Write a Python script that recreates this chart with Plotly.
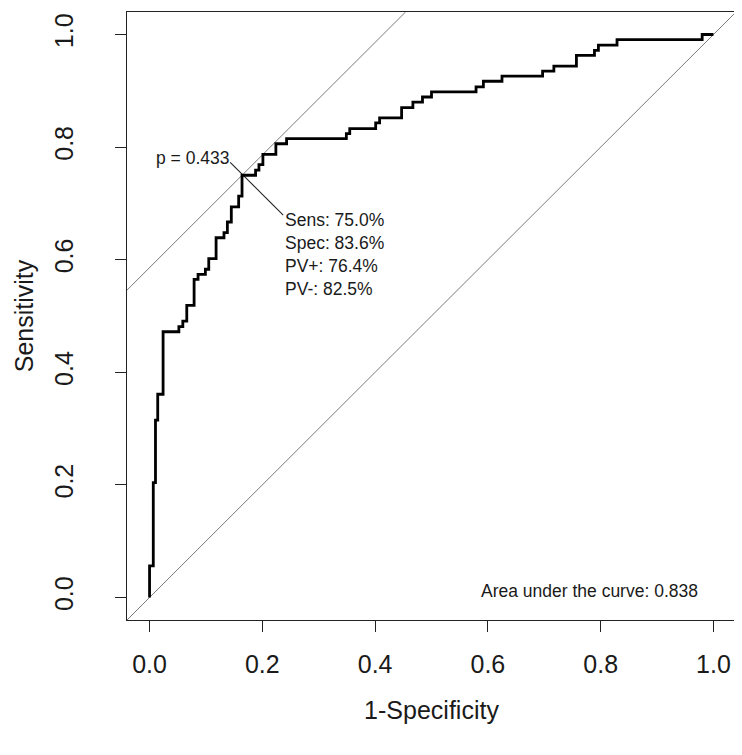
import plotly.graph_objects as go

# ROC curve vertices (1-Specificity, Sensitivity)
fpr = [0.000, 0.000, 0.0066, 0.0066, 0.0105, 0.0105, 0.0145, 0.0145, 0.024, 0.024,
       0.052, 0.052, 0.059, 0.059, 0.066, 0.066, 0.079, 0.079, 0.086, 0.086,
       0.099, 0.099, 0.105, 0.105, 0.118, 0.118, 0.132, 0.132, 0.138, 0.138,
       0.145, 0.145, 0.158, 0.158, 0.164, 0.164,
       0.188, 0.188, 0.194, 0.194, 0.201, 0.201, 0.224, 0.224, 0.243, 0.243,
       0.349, 0.349, 0.355, 0.355, 0.401, 0.401, 0.408, 0.408, 0.447, 0.447,
       0.467, 0.467, 0.484, 0.484, 0.500, 0.500, 0.579, 0.579, 0.592, 0.592,
       0.625, 0.625, 0.697, 0.697, 0.717, 0.717, 0.757, 0.757, 0.789, 0.789,
       0.796, 0.796, 0.829, 0.829, 0.980, 0.980, 1.000]
tpr = [0.000, 0.056, 0.056, 0.204, 0.204, 0.315, 0.315, 0.361, 0.361, 0.472,
       0.472, 0.481, 0.481, 0.491, 0.491, 0.519, 0.519, 0.565, 0.565, 0.574,
       0.574, 0.583, 0.583, 0.602, 0.602, 0.639, 0.639, 0.648, 0.648, 0.667,
       0.667, 0.694, 0.694, 0.713, 0.713, 0.750,
       0.750, 0.759, 0.759, 0.769, 0.769, 0.787, 0.787, 0.806, 0.806, 0.815,
       0.815, 0.824, 0.824, 0.833, 0.833, 0.843, 0.843, 0.852, 0.852, 0.870,
       0.870, 0.880, 0.880, 0.889, 0.889, 0.898, 0.898, 0.907, 0.907, 0.917,
       0.917, 0.926, 0.926, 0.935, 0.935, 0.944, 0.944, 0.963, 0.963, 0.972,
       0.972, 0.981, 0.981, 0.991, 0.991, 1.000, 1.000]

# optimal cut-point statistics
cut_p = 0.433
sens = 0.750
spec = 0.836
pv_pos = 0.764
pv_neg = 0.825
auc = 0.838

x_ticks = [0.0, 0.2, 0.4, 0.6, 0.8, 1.0]
y_ticks = [0.0, 0.2, 0.4, 0.6, 0.8, 1.0]
tick_text = ["0.0", "0.2", "0.4", "0.6", "0.8", "1.0"]

lo, hi = -0.04, 1.04
opt_x = 1 - spec
opt_y = sens
intercept = opt_y - opt_x

FONT = "Liberation Sans, Arial, Helvetica, sans-serif"
GRAY = "#7a7a7a"
TXT = "#1a1a1a"

fig = go.Figure()

# chance diagonal
fig.add_trace(go.Scatter(x=[lo, hi], y=[lo, hi], mode="lines",
                         line=dict(color=GRAY, width=1), hoverinfo="skip"))
# tangent line through optimal point (slope 1)
fig.add_trace(go.Scatter(x=[lo, hi - intercept], y=[lo + intercept, hi], mode="lines",
                         line=dict(color=GRAY, width=1), hoverinfo="skip"))
# pointer segment through optimal point
fig.add_trace(go.Scatter(x=[opt_x - 0.021, opt_x + 0.073], y=[opt_y + 0.023, opt_y - 0.071],
                         mode="lines", line=dict(color="#222222", width=1.1), hoverinfo="skip"))
# ROC curve
fig.add_trace(go.Scatter(x=fpr, y=tpr, mode="lines",
                         line=dict(color="black", width=2.8), hoverinfo="skip"))

ann_font = dict(family=FONT, size=17.5, color=TXT)
annotations = [
    dict(x=opt_x - 0.019, y=0.781, text=f"p = {cut_p:.3f}", xanchor="right", yanchor="middle"),
    dict(x=0.237, y=0.670, text=f"Sens: {sens*100:.1f}%", xanchor="left", yanchor="middle"),
    dict(x=0.237, y=0.629, text=f"Spec: {spec*100:.1f}%", xanchor="left", yanchor="middle"),
    dict(x=0.237, y=0.588, text=f"PV+: {pv_pos*100:.1f}%", xanchor="left", yanchor="middle"),
    dict(x=0.237, y=0.548, text=f"PV-: {pv_neg*100:.1f}%", xanchor="left", yanchor="middle"),
    dict(x=0.977, y=0.011, text=f"Area under the curve: {auc:.3f}", xanchor="right", yanchor="middle"),
]
for a in annotations:
    a.update(xref="x", yref="y", showarrow=False, font=ann_font)

axis_common = dict(
    range=[lo, hi], showgrid=False, zeroline=False, automargin=False,
    showline=True, linecolor="#222222", linewidth=1.2, mirror=True,
    ticks="outside", ticklen=11, tickwidth=1.2, tickcolor="#222222",
    tickfont=dict(family=FONT, size=25, color=TXT),
)

# the page body adds an 8px offset, so margins are compensated for it
fig.update_layout(
    width=742, height=755,
    margin=dict(l=119, r=14, t=4, b=143),
    paper_bgcolor="white", plot_bgcolor="white",
    showlegend=False,
    annotations=annotations,
    xaxis=dict(**axis_common, tickvals=x_ticks, ticktext=tick_text, ticklabelstandoff=11,
               title=dict(text="1-Specificity", font=dict(family=FONT, size=25, color=TXT),
                          standoff=24)),
    yaxis=dict(**axis_common, tickvals=y_ticks, ticktext=tick_text, tickangle=-90,
               ticklabelstandoff=32,
               title=dict(text="Sensitivity", font=dict(family=FONT, size=25, color=TXT),
                          standoff=9)),
)

fig.write_html("out.html")
